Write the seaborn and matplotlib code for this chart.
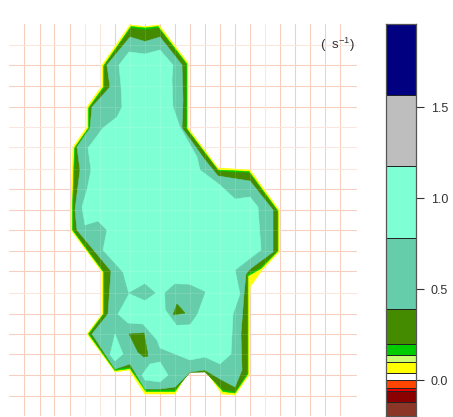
import matplotlib
matplotlib.use("Agg")
import matplotlib.pyplot as plt
import pandas as pd
import seaborn as sns

# grid lines
grid_x = [24, 39.5, 54, 69.5, 84.5, 99.5, 114.5, 129.7, 144.7, 160, 175, 190, 204.5,
          219.7, 235, 250, 265, 279.7, 295, 310, 325, 340]
grid_y = [45, 65.3, 86, 106.7, 127, 147.3, 169, 189.3, 209.7, 230.3, 251, 271.3, 293,
          313.7, 334, 354.3, 375, 395.7]
# these ones come out fainter in the reference
pale_lines = [45, 127, 147.3, 169, 293, 265, 84.5, 99.5]

# contour outlines
yellow_poly = [(130, 25), (145, 26.5), (159, 25), (188, 63), (188, 128), (218, 168), (250, 170),
               (279, 210), (279, 252), (262, 270), (250, 287), (249, 340), (249, 375), (235, 395),
               (222, 394), (205, 370), (190, 369), (175, 394), (145, 394), (129, 370), (115, 372),
               (87, 334), (102, 314), (102, 272), (71, 230), (71, 207), (73, 147), (87, 127),
               (87, 107), (102, 86), (102, 65)]
lime_poly = [(131, 26.5), (145, 28), (158, 26.5), (187, 64), (187, 129), (218, 170), (249, 171.5),
             (278, 211), (278, 251), (261, 268.5), (248, 276), (248, 340), (248, 374), (235, 393),
             (223, 391.5), (205, 371), (190, 370.5), (175, 391.5), (146, 391.5), (130, 368.5), (115, 370.5),
             (88.5, 334), (103.5, 314), (103.5, 272), (72.5, 230), (72.5, 207), (74.5, 148), (88.5, 128),
             (88.5, 108), (103.5, 87), (103.5, 66)]
dgreen_poly = [(131, 28), (145, 30), (158, 28), (186, 64.5), (186, 129), (218.5, 171.5), (249, 173),
               (277, 211), (277, 251), (260, 267.5), (247, 274), (247, 340), (247, 373), (235, 391.5),
               (223, 389.5), (205, 372), (190, 372.5), (175, 389.5), (147, 390), (130, 367), (115, 369),
               (89.5, 334), (104.5, 314), (104.5, 272), (73.5, 230), (73.5, 207), (75.5, 148), (89.5, 128),
               (89.5, 108), (104.5, 88), (104.5, 66)]
medium_poly = [(130, 37), (145, 41.5), (160, 37), (182, 65), (183, 100), (182, 128), (205, 160),
               (218, 176), (250, 181), (273, 210), (273, 252), (250, 269), (246, 274), (244, 294),
               (241, 334), (242, 370), (235, 387), (220, 379), (205, 370), (190, 372), (175, 387),
               (160, 389), (145, 389), (130, 364), (115, 369), (92, 334), (108, 314), (111, 271),
               (77, 230), (75, 210), (80, 170), (77, 147), (90, 128), (92, 107), (110, 87), (107, 65)]
aqua_poly = [(129, 52), (145, 54), (160, 50), (173, 65), (172, 80), (173, 107), (180, 127), (197, 157),
             (200, 170), (220, 185), (235, 199), (250, 197), (258, 207), (261, 250), (235, 270),
             (240, 294), (233, 314), (231, 354), (220, 364), (205, 357), (190, 360), (160, 348),
             (157, 340), (143, 324), (128, 323), (118, 314), (129, 294), (123, 272), (103, 250),
             (107, 230), (98, 221), (85, 225), (82, 207), (87, 190), (91, 170), (88, 148),
             (103, 128), (117, 117), (122, 107), (121, 86), (119, 65)]
aqua_island1 = [(115, 334), (123, 354), (115, 361), (110, 355)]
aqua_island2 = [(142, 375), (150, 364), (160, 362), (168, 375), (160, 382), (145, 380)]
medium_island1 = [(129, 293), (145, 284), (155, 293), (145, 300)]
medium_island2 = [(165, 293), (175, 284), (190, 285), (205, 292), (197, 314), (190, 324),
                  (177, 325), (166, 310)]
dgreen_island1 = [(177, 304), (185, 313), (173, 315)]
dgreen_island2 = [(129, 334), (144, 333), (148, 356), (144, 357), (138, 352)]

# colour bar
levels = [-0.196, -0.12, -0.06, -0.04, 0.0, 0.04, 0.10, 0.14, 0.20, 0.39, 0.78, 1.18, 1.57, 1.958]
level_colors = ["#8B3626", "#8B0000", "#EE0000", "#FF4500", "#FFFFFF", "#FFFF00", "#CAFF70",
                "#00CD00", "#458B00", "#66CDAA", "#7FFFD4", "#BEBEBE", "#000080"]
bar_ticks = [0.0, 0.5, 1.0, 1.5]
bar_labels = ["0.0", "0.5", "1.0", "1.5"]

W, H = 453, 417
sns.set_theme(style="white")
plt.rcParams["font.family"] = ["Liberation Sans", "DejaVu Sans"]
plt.rcParams["mathtext.default"] = "regular"

fig = plt.figure(figsize=(W / 100, H / 100), dpi=100)
ax = fig.add_axes([0, 0, 1, 1])

# long form table for the grid so seaborn can draw it
rows = []
for i, x in enumerate(grid_x):
    tone = "pale" if x in pale_lines else "normal"
    rows.append(["v%d" % i, x, 24, tone])
    rows.append(["v%d" % i, x, 415, tone])
for i, y in enumerate(grid_y):
    tone = "pale" if y in pale_lines else "normal"
    rows.append(["h%d" % i, 9, y, tone])
    rows.append(["h%d" % i, 356, y, tone])
grid_df = pd.DataFrame(rows, columns=["line", "x", "y", "tone"])

sns.lineplot(data=grid_df, x="x", y="y", units="line", estimator=None, sort=False,
             hue="tone", palette={"normal": "#f7c9b6", "pale": "#fbe3d9"}, legend=False,
             linewidth=0.75, ax=ax, zorder=1)

layers = [(yellow_poly, "#FFFF00"), (lime_poly, "#00CD00"), (dgreen_poly, "#458B00"),
          (medium_poly, "#66CDAA"), (aqua_poly, "#7FFFD4"), (aqua_island1, "#7FFFD4"),
          (aqua_island2, "#7FFFD4"), (medium_island1, "#66CDAA"), (medium_island2, "#66CDAA"),
          (dgreen_island1, "#458B00"), (dgreen_island2, "#458B00")]
for poly, col in layers:
    ax.fill([p[0] for p in poly], [p[1] for p in poly], color=col, linewidth=0.4, edgecolor=col, zorder=2)

# faint grid showing through the fill
sns.lineplot(data=grid_df, x="x", y="y", units="line", estimator=None, sort=False,
             color="white", alpha=0.12, linewidth=0.75, ax=ax, zorder=3)

ax.text(338, 44.5, "(  s$^{-1}$)", ha="center", va="center", fontsize=9.5, color="#333333", zorder=4)

ax.set_xlim(0, W)
ax.set_ylim(H, 0)
ax.set_xlabel("")
ax.set_ylabel("")
ax.axis("off")

# colour bar, 386-416 px wide, 24-416 px tall
cax = fig.add_axes([386 / W, 1 - 416 / H, 30 / W, 392 / H])
for lo, hi, col in zip(levels[:-1], levels[1:], level_colors):
    cax.bar(0, hi - lo, width=1, bottom=lo, color=col, edgecolor="#222222", linewidth=0.7)
cax.set_xlim(-0.5, 0.5)
cax.set_ylim(levels[0], levels[-1])
cax.set_xticks([])
cax.yaxis.tick_right()
cax.set_yticks(bar_ticks)
cax.set_yticklabels(bar_labels, fontsize=9, color="#333333")
cax.tick_params(axis="y", length=5.5, width=0.8, color="#333333", pad=5, right=True)
for s in cax.spines.values():
    s.set_color("#555555")
    s.set_linewidth(0.9)

fig.savefig("out.png", dpi=100)
